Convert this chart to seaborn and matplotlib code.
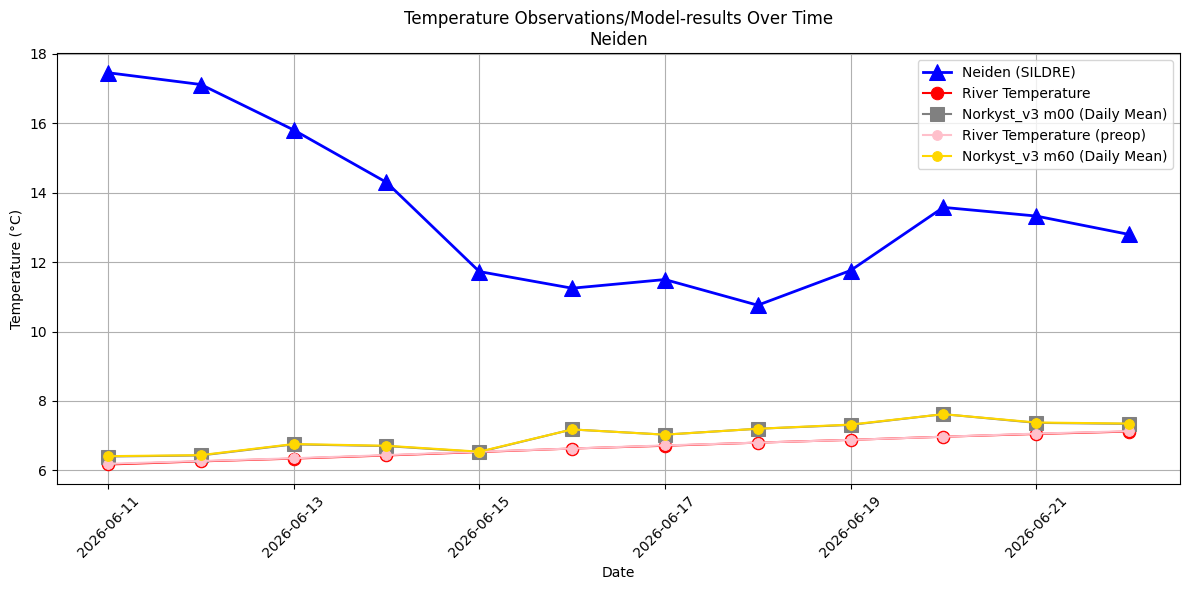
import pandas as pd
import matplotlib
matplotlib.use('Agg')
import matplotlib.pyplot as plt
import matplotlib.dates as mdates
import seaborn as sns

dates = pd.date_range('2026-06-11', '2026-06-22', freq='D')

sildre = [17.46, 17.12, 15.81, 14.30, 11.73, 11.25, 11.50, 10.76, 11.76, 13.58, 13.33, 12.80]
river_temp = [6.17, 6.26, 6.34, 6.43, 6.53, 6.63, 6.71, 6.80, 6.88, 6.97, 7.05, 7.12]
river_preop = [6.19, 6.27, 6.35, 6.44, 6.54, 6.63, 6.72, 6.80, 6.88, 6.97, 7.06, 7.13]
m00 = [6.40, 6.43, 6.75, 6.70, 6.53, 7.18, 7.03, 7.20, 7.31, 7.62, 7.37, 7.34]
m60 = [6.41, 6.44, 6.76, 6.71, 6.54, 7.18, 7.03, 7.20, 7.32, 7.62, 7.38, 7.35]

labels = ['Neiden (SILDRE)', 'River Temperature', 'Norkyst_v3 m00 (Daily Mean)',
          'River Temperature (preop)', 'Norkyst_v3 m60 (Daily Mean)']

df = pd.DataFrame({'date': dates, 'sildre': sildre, 'river': river_temp,
                   'preop': river_preop, 'm00': m00, 'm60': m60})

fig, ax = plt.subplots(figsize=(12, 6), dpi=100)

sns.lineplot(data=df, x='date', y='sildre', ax=ax, color='blue', marker='^',
             markersize=12, linewidth=2, markeredgecolor='blue')
sns.lineplot(data=df, x='date', y='river', ax=ax, color='red', marker='o',
             markersize=9, linewidth=1.5, markeredgecolor='red')
sns.lineplot(data=df, x='date', y='m00', ax=ax, color='gray', marker='s',
             markersize=10, linewidth=1.5, markeredgecolor='gray')
sns.lineplot(data=df, x='date', y='preop', ax=ax, color='pink', marker='o',
             markersize=7, linewidth=1.5, markeredgecolor='pink')
sns.lineplot(data=df, x='date', y='m60', ax=ax, color='gold', marker='o',
             markersize=7, linewidth=1.5, markeredgecolor='gold')

ax.set_title('Temperature Observations/Model-results Over Time\nNeiden')
ax.set_xlabel('Date')
ax.set_ylabel('Temperature (°C)')
ax.set_xticks(dates[::2])
ax.xaxis.set_major_formatter(mdates.DateFormatter('%Y-%m-%d'))
plt.xticks(rotation=45)
ax.grid(True)
ax.legend(ax.lines[:5], labels, loc='upper right')
plt.tight_layout()
plt.savefig('out.png', bbox_inches='tight')
